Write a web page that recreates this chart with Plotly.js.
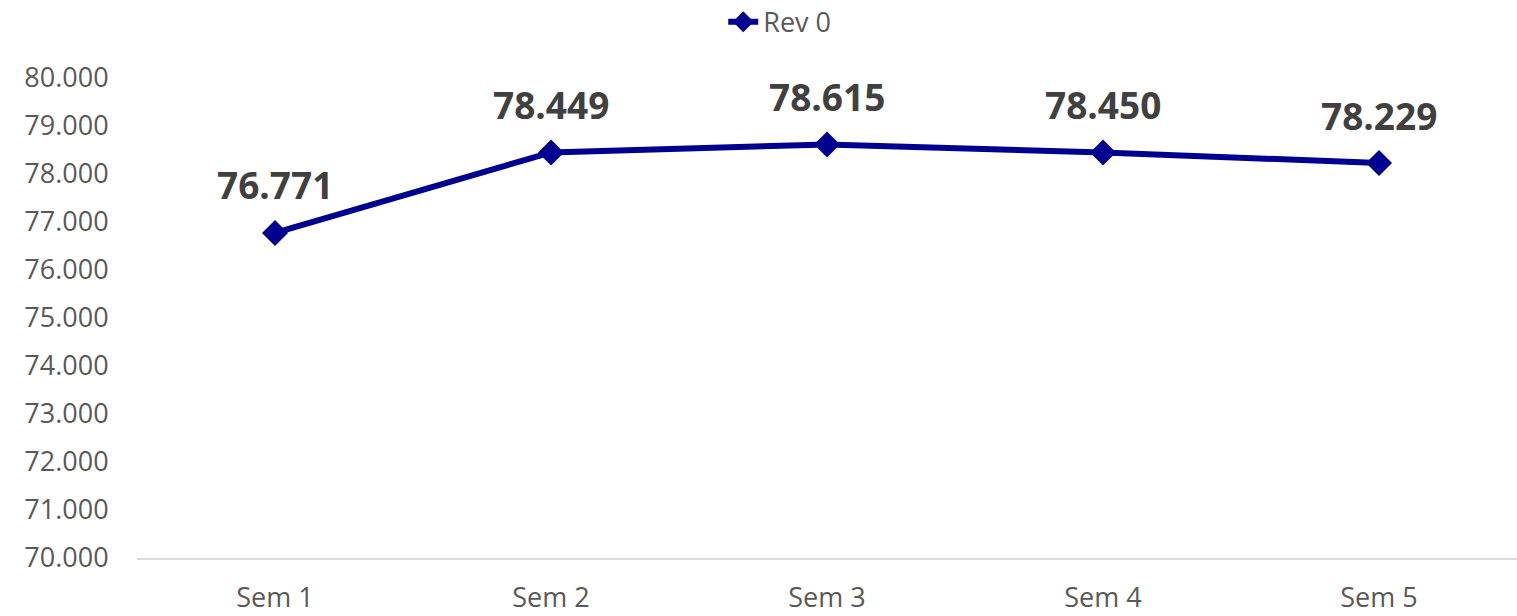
<!DOCTYPE html>
<html><head><meta charset="utf-8">
<script src="https://cdn.plot.ly/plotly-3.0.1.min.js"></script>
<style>html,body{margin:0;padding:0;background:#fff}#chart{width:1517px;height:616px}</style>
</head><body><div id="chart"></div>
<script>
const categories = ["Sem 1", "Sem 2", "Sem 3", "Sem 4", "Sem 5"];
const rev0 = [76771, 78449, 78615, 78450, 78229];
const seriesName = "Rev 0";
const yTicks = [70000, 71000, 72000, 73000, 74000, 75000, 76000, 77000, 78000, 79000, 80000];

function fmt(v){ return String(v).replace(/\B(?=(\d{3})+(?!\d))/g, "."); }

const FONT = "Open Sans, Liberation Sans, sans-serif";

const trace = {
  x: categories, y: rev0, name: seriesName, type: "scatter", mode: "lines+markers",
  line: {color: "#000090", width: 6},
  marker: {symbol: "diamond", size: 20, color: "#000090"},
  hoverinfo: "skip"
};

const annotations = categories.map((c, i) => ({
  x: c, y: rev0[i], xref: "x", yref: "y", text: "<b>" + fmt(rev0[i]) + "</b>",
  showarrow: false, yanchor: "middle", yshift: 48,
  font: {family: FONT, size: 37, color: "#404040"}
}));

const layout = {
  width: 1517, height: 616,
  margin: {l: 137, r: 0, t: 78, b: 58},
  paper_bgcolor: "#fff", plot_bgcolor: "#fff",
  separators: ",.",
  showlegend: true,
  legend: {orientation: "h", x: 0.514, xanchor: "center", xref: "container", yref: "container", y: 0.964, yanchor: "middle",
    font: {family: FONT, size: 27, color: "#595959"}},
  xaxis: {type: "category", range: [-0.5, 4.5], showgrid: false, zeroline: false,
    showline: true, linecolor: "#d9d9d9", linewidth: 2,
    ticks: "outside", ticklen: 15, tickcolor: "rgba(0,0,0,0)",
    tickfont: {family: FONT, size: 27, color: "#595959"}},
  yaxis: {range: [70000, 80000], tickvals: yTicks, ticktext: yTicks.map(fmt),
    showgrid: false, zeroline: false, showline: false,
    ticks: "outside", ticklen: 22, tickcolor: "rgba(0,0,0,0)",
    tickfont: {family: FONT, size: 27, color: "#595959"}},
  annotations: annotations
};

Plotly.newPlot("chart", [trace], layout, {displayModeBar: false, staticPlot: true});
</script></body></html>
